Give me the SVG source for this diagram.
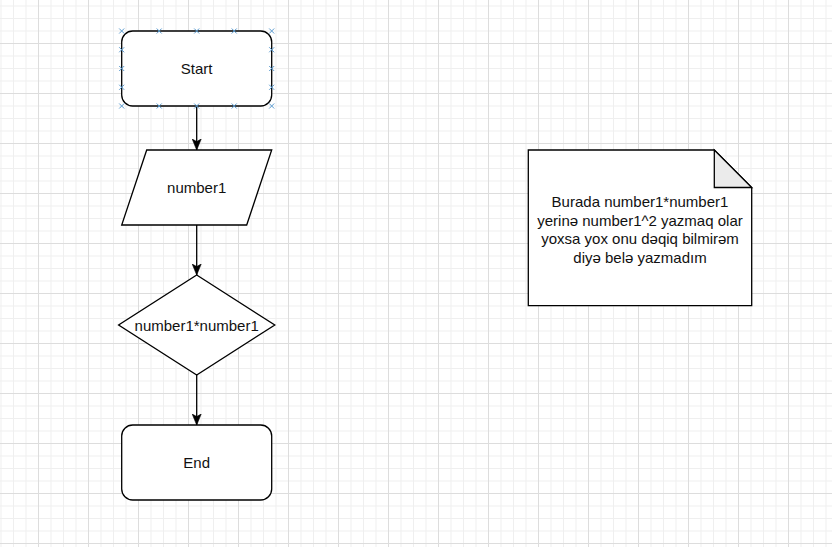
<svg xmlns="http://www.w3.org/2000/svg" width="832" height="547" viewBox="0 0 832 547">
<style>
.shape{fill:#ffffff;stroke:#000000;stroke-width:1.3}
.lbl{font-family:"Liberation Sans",Arial,Helvetica,sans-serif;font-size:15px;fill:#111111;text-anchor:middle;dominant-baseline:central}
.edge{fill:none;stroke:#000000;stroke-width:1.3}
.cp{stroke:#5a9bd0;stroke-width:1;fill:none}
</style>
<defs>
<pattern id="grid" patternUnits="userSpaceOnUse" x="38" y="43" width="50" height="50">
<path d="M13 0V50M25.5 0V50M38 0V50M0 13H50M0 25.5H50M0 38H50" stroke="#efefef" stroke-width="1" fill="none"/>
<path d="M0.5 0V50M0 0.5H50" stroke="#dddddd" stroke-width="1" fill="none"/>
</pattern>
<marker id="arrow" markerUnits="userSpaceOnUse" markerWidth="12" markerHeight="10" viewBox="0 0 11 10" refX="11" refY="5" orient="auto">
<path d="M0 0.5L11 5L0 9.5L2.6 5Z" fill="#000000" stroke="#000000" stroke-width="0.6"/>
</marker>
<path id="x" d="M-2.5 -2.5L2.5 2.5M-2.5 2.5L2.5 -2.5"/>
</defs>
<rect width="832" height="547" fill="#ffffff"/>
<rect width="832" height="547" fill="url(#grid)"/>

<g id="connectors">
<path class="edge" d="M196.7 106V150" marker-end="url(#arrow)"/>
<path class="edge" d="M196.7 225V275" marker-end="url(#arrow)"/>
<path class="edge" d="M196.7 375V425" marker-end="url(#arrow)"/>
</g>

<g id="start">
<rect class="shape" x="121.7" y="31" width="150" height="75" rx="11" ry="11"/>
<text class="lbl" x="196.7" y="68.5">Start</text>
<g class="cp">
<use href="#x" x="121.7" y="31"/><use href="#x" x="159.2" y="31"/><use href="#x" x="196.7" y="31"/><use href="#x" x="234.2" y="31"/><use href="#x" x="271.7" y="31"/>
<use href="#x" x="121.7" y="106"/><use href="#x" x="159.2" y="106"/><use href="#x" x="196.7" y="106"/><use href="#x" x="234.2" y="106"/><use href="#x" x="271.7" y="106"/>
<use href="#x" x="121.7" y="49.75"/><use href="#x" x="121.7" y="68.5"/><use href="#x" x="121.7" y="87.25"/>
<use href="#x" x="271.7" y="49.75"/><use href="#x" x="271.7" y="68.5"/><use href="#x" x="271.7" y="87.25"/>
</g>
</g>

<g id="input">
<polygon class="shape" points="146.7,150 271.7,150 246.7,225 121.7,225"/>
<text class="lbl" x="196.7" y="187.5">number1</text>
</g>

<g id="decision">
<polygon class="shape" points="196.7,275 274.8,325 196.7,375 118.6,325"/>
<text class="lbl" x="196.7" y="325">number1*number1</text>
</g>

<g id="end">
<rect class="shape" x="121.7" y="425" width="150" height="75" rx="11" ry="11"/>
<text class="lbl" x="196.7" y="462.5">End</text>
</g>

<g id="note">
<path class="shape" d="M528.3 150H714.3L751.7 187.5V305.7H528.3Z"/>
<path d="M714.3 150V187.5H751.7Z" fill="#ebebeb" stroke="#000000" stroke-width="1.3" stroke-linejoin="miter"/>
<text class="lbl" x="640" y="201.5">Burada number1*number1</text>
<text class="lbl" x="640" y="220">yerinə number1^2 yazmaq olar</text>
<text class="lbl" x="640" y="238.5">yoxsa yox onu dəqiq bilmirəm</text>
<text class="lbl" x="640" y="257">diyə belə yazmadım</text>
</g>
</svg>
